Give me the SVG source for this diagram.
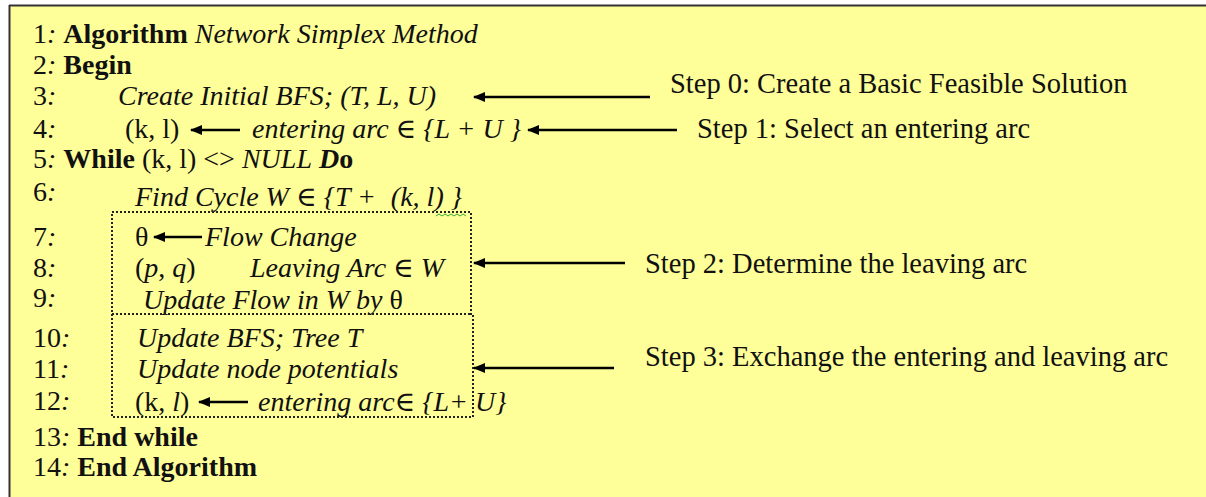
<svg xmlns="http://www.w3.org/2000/svg" width="1206" height="497" viewBox="0 0 1206 497" font-family="'Liberation Serif', 'Times New Roman', Times, Tinos, 'DejaVu Serif', serif">
  <defs>
    <style>
      text { font-family: 'Liberation Serif', 'Times New Roman', Times, Tinos, 'DejaVu Serif', serif; font-size: 28px; fill: #111; }
      .b { font-weight: bold; }
      .i { font-style: italic; }
      .n { font-style: normal; }
      .step text { font-size: 28.5px; }
      .dot { fill: none; stroke: #222; stroke-width: 2; stroke-dasharray: 2 2; }
      .arr { stroke: #000; stroke-width: 2.5; fill: none; marker-end: url(#head); }
    </style>
    <marker id="head" viewBox="0 0 10 10" refX="9" refY="5" markerWidth="5" markerHeight="5" orient="auto" markerUnits="strokeWidth">
      <path d="M0,1 L10,5 L0,9 Z" fill="#000"/>
    </marker>
  </defs>

  <!-- panel -->
  <rect x="0" y="0" width="1206" height="497" fill="#ffffff"/>
  <rect x="9" y="5" width="1200" height="500" fill="#ffff99"/>
  <line x1="9" y1="5.5" x2="1206" y2="5.5" stroke="#333" stroke-width="2"/>
  <line x1="9.5" y1="5" x2="9.5" y2="497" stroke="#333" stroke-width="2"/>

  <!-- pseudocode lines -->
  <g id="code">
    <text x="33" y="43">1<tspan class="i">:</tspan> <tspan class="b">Algorithm</tspan> <tspan class="i">Network Simplex Method</tspan></text>
    <text x="33" y="74">2<tspan class="i">:</tspan> <tspan class="b">Begin</tspan></text>
    <text x="33" y="105">3<tspan class="i">:</tspan></text>
    <text x="118" y="105" class="i">Create Initial BFS; (T, L, U)</text>
    <text x="33" y="138">4<tspan class="i">:</tspan></text>
    <text x="125" y="138">(k, l)</text>
    <text x="252" y="138" class="i">entering arc <tspan class="n">∈</tspan> {L + U }</text>
    <text x="33" y="168">5<tspan class="i">:</tspan> <tspan class="b">While</tspan> (k, l) &lt;&gt; <tspan class="i">NULL</tspan> <tspan class="b i">D</tspan><tspan class="b">o</tspan></text>
    <text x="33" y="201">6<tspan class="i">:</tspan></text>
    <text x="135" y="206" class="i">Find Cycle W <tspan class="n">∈</tspan> {T + <tspan dx="8">(k, l) }</tspan></text>
    <text x="33" y="246">7<tspan class="i">:</tspan></text>
    <text x="135" y="246">θ</text>
    <text x="205" y="246" class="i">Flow Change</text>
    <text x="33" y="277">8<tspan class="i">:</tspan></text>
    <text x="135" y="277">(<tspan class="i">p</tspan>, <tspan class="i">q</tspan>)</text>
    <text x="250" y="277" class="i">Leaving Arc  <tspan class="n">∈</tspan> W</text>
    <text x="33" y="307">9<tspan class="i">:</tspan></text>
    <text x="143" y="309" class="i">Update Flow in W by <tspan class="n">θ</tspan></text>
    <text x="33" y="347">10<tspan class="i">:</tspan></text>
    <text x="137" y="347" class="i">Update BFS; Tree T</text>
    <text x="33" y="378">11<tspan class="i">:</tspan></text>
    <text x="137" y="378" class="i">Update node potentials</text>
    <text x="33" y="410">12<tspan class="i">:</tspan></text>
    <text x="135" y="411">(k, <tspan class="i">l</tspan>)</text>
    <text x="258" y="411" class="i">entering arc<tspan class="n">∈</tspan> {L+ U}</text>
    <text x="33" y="446">13<tspan class="i">:</tspan> <tspan class="b">End while</tspan></text>
    <text x="33" y="476">14<tspan class="i">:</tspan> <tspan class="b">End Algorithm</tspan></text>
  </g>

  <!-- dotted groupings: outer frame plus one shared divider -->
  <g id="blocks">
    <path class="dot" d="M112,212 H471 V314 H473 V417 H112 Z"/>
    <path class="dot" d="M112,314 H471"/>
    <path d="M436,216 l3,-2 l3,2 l3,-2 l3,2 l3,-2 l3,2 l3,-2 l3,2 l3,-2 l3,2" fill="none" stroke="#3a3" stroke-width="1"/>
  </g>

  <!-- step annotations -->
  <g class="step">
    <g id="step0"><text x="670" y="93">Step 0: Create a Basic Feasible Solution</text></g>
    <g id="step1"><text x="697" y="138">Step 1: Select an entering arc</text></g>
    <g id="step2"><text x="645" y="273">Step 2: Determine the leaving arc</text></g>
    <g id="step3"><text x="645" y="366">Step 3: Exchange the entering and leaving arc</text></g>
  </g>

  <!-- connectors -->
  <g id="connectors">
    <line class="arr" x1="650" y1="97" x2="474" y2="97"/>
    <line class="arr" x1="677" y1="130" x2="528" y2="130"/>
    <line class="arr" x1="625" y1="263" x2="474" y2="263"/>
    <line class="arr" x1="614" y1="368" x2="474" y2="368"/>
    <line class="arr" x1="240" y1="130" x2="191" y2="130"/>
    <line class="arr" x1="202" y1="237" x2="154" y2="237"/>
    <line class="arr" x1="248" y1="402" x2="199" y2="402"/>
  </g>
</svg>
